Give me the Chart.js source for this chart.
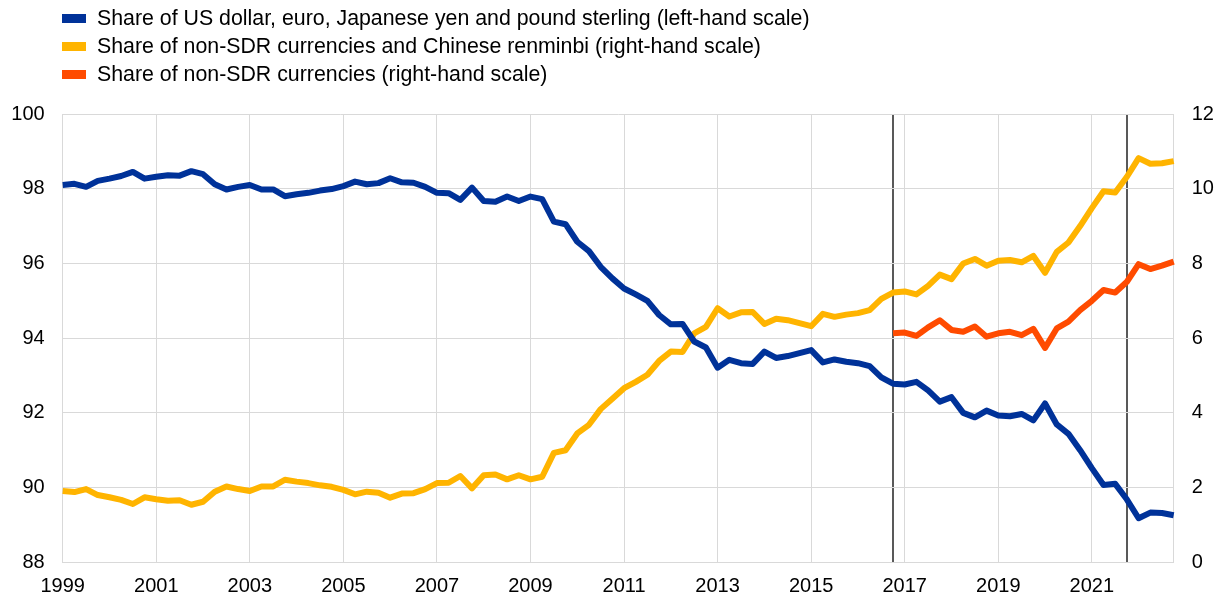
<!DOCTYPE html>
<html><head><meta charset="utf-8">
<script src="https://cdn.jsdelivr.net/npm/chart.js@4/dist/chart.umd.min.js"></script>
<style>
html,body{margin:0;padding:0;background:#fff;}
#wrap{position:relative;width:1218px;height:597px;}
#legend{position:absolute;left:62px;top:4px;font-family:'Liberation Sans',Arial,sans-serif;font-size:21.33px;color:#000;}
.item{height:28px;line-height:28px;display:flex;align-items:center;white-space:nowrap;}
.box{width:24px;height:9px;margin-right:11px;flex:none;}
</style></head>
<body><div id="wrap"><canvas id="c" width="1218" height="597"></canvas><div id="legend"></div></div>
<script>
// Categories: quarterly observations 1999Q1 - 2022Q4
const years = [1999,2000,2001,2002,2003,2004,2005,2006,2007,2008,2009,2010,2011,2012,2013,2014,2015,2016,2017,2018,2019,2020,2021,2022];
const quarterNames = ['Q1','Q2','Q3','Q4'];
const quarters = [];
years.forEach(y => quarterNames.forEach(q => quarters.push(y + q)));

const yearTicks = ['1999','2001','2003','2005','2007','2009','2011','2013','2015','2017','2019','2021'];
const markerQuarters = ['2016Q4','2021Q4'];
const leftTicks = [88,90,92,94,96,98,100];
const rightTicks = [0,2,4,6,8,10,12];

// Share of US dollar, euro, Japanese yen and pound sterling (left-hand scale)
const majorShare = [
  98.10, 98.13, 98.05, 98.21, 98.27, 98.34, 98.45, 98.27, 98.32, 98.36, 98.35, 98.47,
  98.39, 98.12, 97.98, 98.05, 98.10, 97.98, 97.98, 97.80, 97.85, 97.89, 97.95, 97.99,
  98.07, 98.19, 98.12, 98.15, 98.28, 98.17, 98.16, 98.05, 97.89, 97.88, 97.70, 98.03,
  97.67, 97.65, 97.79, 97.67, 97.79, 97.72, 97.12, 97.05, 96.58, 96.33, 95.91, 95.60,
  95.33, 95.17, 95.00, 94.62, 94.37, 94.38, 93.91, 93.75, 93.21, 93.42, 93.33, 93.31,
  93.64, 93.47, 93.52, 93.60, 93.68, 93.35, 93.43, 93.37, 93.33, 93.25, 92.95, 92.78,
  92.76, 92.83, 92.60, 92.30, 92.42, 92.00, 91.88, 92.06, 91.93, 91.91, 91.97, 91.80,
  92.25, 91.69, 91.44, 91.00, 90.52, 90.07, 90.10, 89.68, 89.18, 89.33, 89.32, 89.26
];
// Share of non-SDR currencies and Chinese renminbi (right-hand scale)
const nonSdrCnyShare = [
  1.91, 1.88, 1.96, 1.80, 1.74, 1.67, 1.56, 1.74, 1.69, 1.65, 1.66, 1.54,
  1.62, 1.89, 2.03, 1.96, 1.91, 2.03, 2.03, 2.21, 2.16, 2.12, 2.06, 2.02,
  1.94, 1.82, 1.89, 1.86, 1.73, 1.84, 1.85, 1.96, 2.12, 2.13, 2.31, 1.98,
  2.33, 2.35, 2.22, 2.33, 2.22, 2.29, 2.93, 3.00, 3.45, 3.68, 4.10, 4.38,
  4.66, 4.83, 5.02, 5.39, 5.64, 5.63, 6.13, 6.30, 6.80, 6.58, 6.69, 6.70,
  6.38, 6.52, 6.48, 6.40, 6.32, 6.65, 6.57, 6.63, 6.67, 6.75, 7.05, 7.22,
  7.25, 7.17, 7.40, 7.70, 7.58, 8.00, 8.12, 7.94, 8.07, 8.09, 8.03, 8.20,
  7.75, 8.31, 8.56, 9.00, 9.48, 9.93, 9.90, 10.32, 10.82, 10.67, 10.68, 10.74
];
// Share of non-SDR currencies (right-hand scale), available from 2016Q4
const nonSdrShare = [
  null, null, null, null, null, null, null, null, null, null, null, null,
  null, null, null, null, null, null, null, null, null, null, null, null,
  null, null, null, null, null, null, null, null, null, null, null, null,
  null, null, null, null, null, null, null, null, null, null, null, null,
  null, null, null, null, null, null, null, null, null, null, null, null,
  null, null, null, null, null, null, null, null, null, null, null, 6.13,
  6.15, 6.06, 6.29, 6.48, 6.22, 6.17, 6.31, 6.04, 6.13, 6.17, 6.08, 6.25,
  5.74, 6.26, 6.44, 6.75, 7.00, 7.29, 7.22, 7.51, 7.98, 7.85, 7.94, 8.05
];

const FONT = {family: "'Liberation Sans', Arial, sans-serif", size: 20, lineHeight: 1};
const GRID = '#d9d9d9';
const MARK = '#595959';

const chart = new Chart(document.getElementById('c'), {
  type: 'line',
  data: {
    labels: quarters,
    datasets: [
      {label: 'Share of US dollar, euro, Japanese yen and pound sterling (left-hand scale)', data: majorShare, yAxisID: 'y', borderColor: '#003299', backgroundColor: '#003299'},
      {label: 'Share of non-SDR currencies and Chinese renminbi (right-hand scale)', data: nonSdrCnyShare, yAxisID: 'y2', borderColor: '#FFB400', backgroundColor: '#FFB400'},
      {label: 'Share of non-SDR currencies (right-hand scale)', data: nonSdrShare, yAxisID: 'y2', borderColor: '#FF4B00', backgroundColor: '#FF4B00'}
    ]
  },
  options: {
    responsive: false,
    animation: false,
    devicePixelRatio: 1,
    layout: {padding: {left: 11, right: 4, top: 114, bottom: 0}},
    plugins: {legend: {display: false}, tooltip: {enabled: false}},
    elements: {
      point: {radius: 0, hoverRadius: 0},
      line: {borderWidth: 6, tension: 0, borderJoinStyle: 'round', borderCapStyle: 'butt', fill: false}
    },
    scales: {
      x: {
        type: 'category',
        offset: false,
        afterFit: s => { s.height = 34.7; },
        border: {color: GRID, width: 1},
        grid: {
          drawTicks: false,
          color: ctx => {
            const q = quarters[ctx.index];
            if (markerQuarters.includes(q)) return MARK;
            if (q && q.endsWith('Q1') && yearTicks.includes(q.slice(0,4))) return GRID;
            return 'rgba(0,0,0,0)';
          },
          lineWidth: ctx => markerQuarters.includes(quarters[ctx.index]) ? 2 : 1
        },
        ticks: {
          autoSkip: false, maxRotation: 0, minRotation: 0, padding: 14,
          color: '#000', font: FONT,
          callback: (v, i) => {
            const q = quarters[i];
            return (q.endsWith('Q1') && yearTicks.includes(q.slice(0,4))) ? q.slice(0,4) : '';
          }
        }
      },
      y: {
        position: 'left', min: leftTicks[0], max: leftTicks[leftTicks.length-1],
        afterBuildTicks: a => { a.ticks = leftTicks.map(v => ({value: v})); },
        afterFit: s => { s.width = 51.7; },
        border: {color: GRID, width: 1},
        grid: {color: GRID, lineWidth: 1, drawTicks: false},
        ticks: {padding: 18, color: '#000', font: FONT}
      },
      y2: {
        position: 'right', min: rightTicks[0], max: rightTicks[rightTicks.length-1],
        afterBuildTicks: a => { a.ticks = rightTicks.map(v => ({value: v})); },
        afterFit: s => { s.width = 40.3; },
        border: {color: GRID, width: 1},
        grid: {drawOnChartArea: false, drawTicks: false},
        ticks: {padding: 18, color: '#000', font: FONT}
      }
    }
  }
});

const legend = document.getElementById('legend');
chart.data.datasets.forEach(ds => {
  const item = document.createElement('div');
  item.className = 'item';
  const box = document.createElement('span');
  box.className = 'box';
  box.style.background = ds.borderColor;
  const txt = document.createElement('span');
  txt.textContent = ds.label;
  item.appendChild(box); item.appendChild(txt);
  legend.appendChild(item);
});
</script>
</body></html>
